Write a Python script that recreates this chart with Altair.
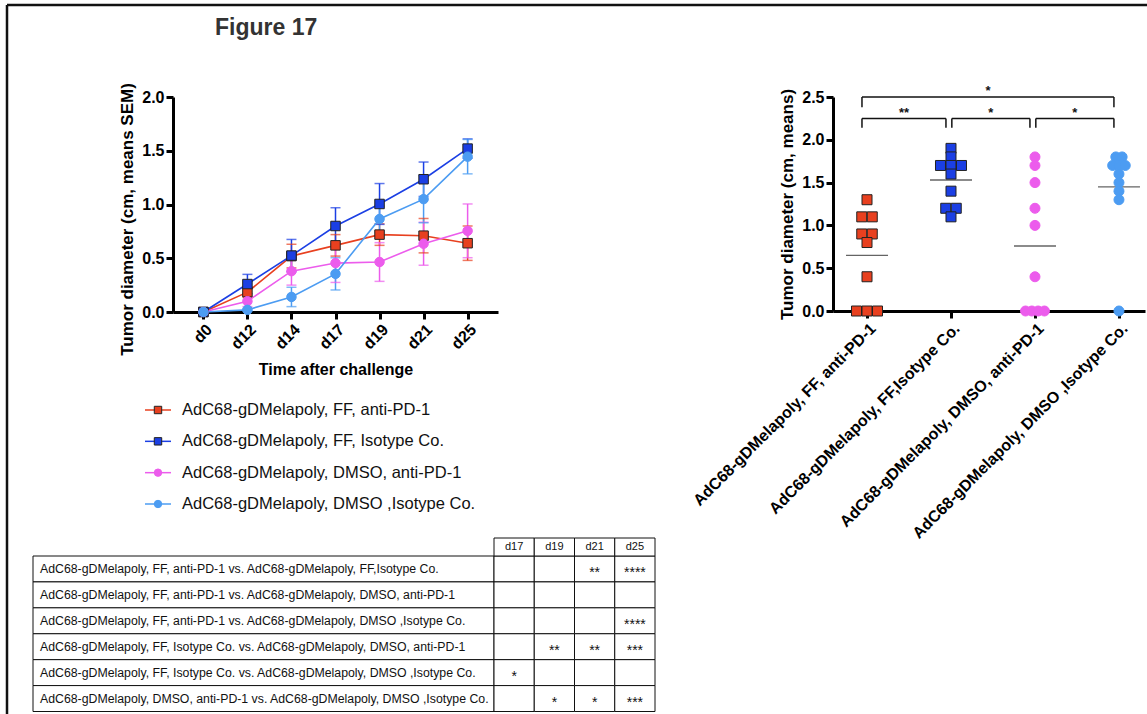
import json
import altair as alt
import pandas as pd

# ---------------- data ----------------
series = ["AdC68-gDMelapoly, FF, anti-PD-1",
          "AdC68-gDMelapoly, FF, Isotype Co.",
          "AdC68-gDMelapoly, DMSO, anti-PD-1",
          "AdC68-gDMelapoly, DMSO ,Isotype Co."]
group_labels = ["AdC68-gDMelapoly, FF, anti-PD-1",
                "AdC68-gDMelapoly, FF,Isotype Co.",
                "AdC68-gDMelapoly, DMSO, anti-PD-1",
                "AdC68-gDMelapoly, DMSO ,Isotype Co."]
colors = ["#E8401F", "#1B3FE4", "#EC5CEC", "#4C9CF2"]
shapes = ["square", "square", "circle", "circle"]

days = ["d0", "d12", "d14", "d17", "d19", "d21", "d25"]
mean_ff_anti = [0, 0.185, 0.52, 0.62, 0.72, 0.71, 0.64]
sem_ff_anti = [0, 0.05, 0.11, 0.10, 0.10, 0.16, 0.16]
mean_ff_iso = [0, 0.26, 0.525, 0.80, 1.005, 1.235, 1.52]
sem_ff_iso = [0, 0.09, 0.15, 0.17, 0.19, 0.16, 0.09]
mean_dmso_anti = [0, 0.10, 0.38, 0.455, 0.465, 0.635, 0.755]
sem_dmso_anti = [0, 0.05, 0.13, 0.18, 0.18, 0.20, 0.25]
mean_dmso_iso = [0, 0.02, 0.14, 0.355, 0.865, 1.05, 1.445]
sem_dmso_iso = [0, 0.01, 0.09, 0.15, 0.12, 0.22, 0.16]

# individual tumour diameters at d25
pts_ff_anti = [1.3, 1.1, 1.1, 0.9, 0.9, 0.8, 0.4, 0, 0, 0]
pts_ff_iso = [1.9, 1.8, 1.7, 1.7, 1.7, 1.6, 1.4, 1.2, 1.2, 1.1]
pts_dmso_anti = [1.8, 1.7, 1.5, 1.2, 1.0, 0.4, 0, 0, 0, 0]
pts_dmso_iso = [1.8, 1.8, 1.7, 1.7, 1.7, 1.6, 1.5, 1.4, 1.3, 0]

# significance brackets (group index from, to, label)
br_from = [0, 1, 2, 0]
br_to = [1, 2, 3, 3]
br_level = [2.25, 2.25, 2.25, 2.5]
br_drop = [2.14, 2.14, 2.14, 2.38]
br_label = ["**", "*", "*", "*"]

# table
comparisons = [
    "AdC68-gDMelapoly, FF, anti-PD-1 vs. AdC68-gDMelapoly, FF,Isotype Co.",
    "AdC68-gDMelapoly, FF, anti-PD-1 vs. AdC68-gDMelapoly, DMSO, anti-PD-1",
    "AdC68-gDMelapoly, FF, anti-PD-1 vs. AdC68-gDMelapoly, DMSO ,Isotype Co.",
    "AdC68-gDMelapoly, FF, Isotype Co. vs. AdC68-gDMelapoly, DMSO, anti-PD-1",
    "AdC68-gDMelapoly, FF, Isotype Co. vs. AdC68-gDMelapoly, DMSO ,Isotype Co.",
    "AdC68-gDMelapoly, DMSO, anti-PD-1 vs. AdC68-gDMelapoly, DMSO ,Isotype Co.",
]
table_days = ["d17", "d19", "d21", "d25"]
sig_d17 = ["", "", "", "", "*", ""]
sig_d19 = ["", "", "", "**", "", "*"]
sig_d21 = ["**", "", "", "**", "", "*"]
sig_d25 = ["****", "", "****", "***", "", "***"]

# ---------------- layout constants ----------------
W, H = 1147, 714
FONT = "Liberation Sans"

# ---------------- tables for the library ----------------
means = [mean_ff_anti, mean_ff_iso, mean_dmso_anti, mean_dmso_iso]
sems = [sem_ff_anti, sem_ff_iso, sem_dmso_anti, sem_dmso_iso]
rows = []
for s, m, e in zip(series, means, sems):
    for k, (d, mv, ev) in enumerate(zip(days, m, e)):
        rows.append(dict(series=s, day=d, k=k, mean=mv, lo=mv - ev, hi=mv + ev))
line_df = pd.DataFrame(rows)

pts = [pts_ff_anti, pts_ff_iso, pts_dmso_anti, pts_dmso_iso]
spread = [0.125, 0.125, 0.075, 0.075]
srows = []
mrows = []
for gi, (s, vals) in enumerate(zip(series, pts)):
    counts = {}
    for v in vals:
        counts[v] = counts.get(v, 0) + 1
    seen = {}
    for v in vals:
        n = counts[v]
        i = seen.get(v, 0)
        seen[v] = i + 1
        srows.append(dict(series=s, xpos=gi + (i - (n - 1) / 2) * spread[gi], value=v))
    mrows.append(dict(xpos=gi, mean=sum(vals) / len(vals)))
scatter_df = pd.DataFrame(srows)
mean_df = pd.DataFrame(mrows)

seg = []
lab = []
for a, b, lv, dr, t in zip(br_from, br_to, br_level, br_drop, br_label):
    xa = a - 0.06 if a == 0 else a + 0.01
    xb = b - 0.06
    seg.append(dict(x=xa, x2=xb, y=lv, y2=lv))
    seg.append(dict(x=xa, x2=xa, y=lv, y2=dr))
    seg.append(dict(x=xb, x2=xb, y=lv, y2=dr))
    lab.append(dict(x=(xa + xb) / 2, y=lv + 0.065, t=t))
seg_df = pd.DataFrame(seg)
lab_df = pd.DataFrame(lab)

legend_df = pd.DataFrame({"series": series})

cells = []
for r in range(len(comparisons)):
    for d, col in zip(table_days, [sig_d17, sig_d19, sig_d21, sig_d25]):
        cells.append(dict(row=r, day=d, sig=col[r]))
cell_df = pd.DataFrame(cells)
label_df = pd.DataFrame({"row": list(range(len(comparisons))), "text": comparisons})
head_df = pd.DataFrame({"day": table_days})

# ---------------- scales ----------------
color = alt.Color("series:N", scale=alt.Scale(domain=series, range=colors), legend=None)
shape = alt.Shape("series:N", scale=alt.Scale(domain=series, range=shapes), legend=None)
outline = alt.Stroke("series:N",
                     scale=alt.Scale(domain=series, range=["#222", "#222", colors[2], colors[3]]),
                     legend=None)


def lx(axis=None):
    return alt.X("day:O", sort=days,
                 scale=alt.Scale(type="point", domain=days, range=[173, 498], padding=0.69),
                 axis=axis)


def ly(field, axis=None):
    return alt.Y(field, type="quantitative",
                 scale=alt.Scale(domain=[0, 2], range=[312, 97], nice=False, zero=False),
                 axis=axis)


def sx(field, axis=None):
    return alt.X(field, type="quantitative",
                 scale=alt.Scale(domain=[-0.405, 3.31], range=[833, 1145], nice=False, zero=False),
                 axis=axis)


def sy(field, axis=None):
    return alt.Y(field, type="quantitative",
                 scale=alt.Scale(domain=[0, 2.5], range=[311, 97], nice=False, zero=False),
                 axis=axis)


axis_common = dict(domainColor="#000", domainWidth=3, tickColor="#000", tickWidth=3,
                   tickSize=7, labelPadding=2, labelFont=FONT, labelFontWeight="bold",
                   labelColor="#000", titleFont=FONT, titleFontWeight="bold",
                   titleColor="#000", grid=False, labelLimit=400)

left_x_axis = alt.Axis(orient="bottom", offset=312 - H, title="Time after challenge",
                       titleFontSize=16, titlePadding=10, labelAngle=315, labelFontSize=16,
                       **axis_common)
left_y_axis = alt.Axis(orient="left", offset=-173, values=[0, 0.5, 1, 1.5, 2], format=".1f",
                       title="Tumor diameter (cm, means SEM)", titleFontSize=17, titleY=219,
                       labelFontSize=16, titlePadding=5, **axis_common)
right_x_axis = alt.Axis(orient="bottom", offset=311 - H, values=[0, 1, 2, 3],
                        labelExpr=json.dumps(group_labels) + "[datum.value]",
                        labelAngle=315, labelFontSize=16, title=None,
                        labelOverlap=False, labelFlush=False, labelBound=False,
                        **axis_common)
right_y_axis = alt.Axis(orient="left", offset=-833, values=[0, 0.5, 1, 1.5, 2, 2.5], format=".1f",
                        title="Tumor diameter (cm, means)", titleFontSize=17,
                        labelFontSize=16, titlePadding=5, **axis_common)

# ---------------- frame & title ----------------
one = pd.DataFrame({"t": ["Figure 17"]})
frame_top = alt.Chart(one).mark_rule(color="#111", strokeWidth=2.5).encode(
    x=alt.value(7), x2=alt.value(W), y=alt.value(5))
frame_left = alt.Chart(one).mark_rule(color="#111", strokeWidth=2.5).encode(
    x=alt.value(7), y=alt.value(5), y2=alt.value(H))
title = alt.Chart(one).mark_text(font=FONT, fontSize=23, fontWeight="bold", color="#333",
                                 align="left", baseline="middle").encode(
    x=alt.value(215), y=alt.value(28), text="t:N")

# ---------------- line chart ----------------
err_rule = alt.Chart(line_df).mark_rule(strokeWidth=1.5).encode(
    x=lx(), y=ly("lo"), y2="hi", color=color)
cap_hi = alt.Chart(line_df).mark_tick(orient="horizontal", size=10, thickness=1.5).encode(
    x=lx(), y=ly("hi"), color=color)
cap_lo = alt.Chart(line_df).mark_tick(orient="horizontal", size=10, thickness=1.5).encode(
    x=lx(), y=ly("lo"), color=color)
lines = alt.Chart(line_df).mark_line(strokeWidth=1.6).encode(
    x=lx(left_x_axis), y=ly("mean", left_y_axis), color=color, order="k:Q")
points = alt.Chart(line_df).mark_point(filled=True, size=90, opacity=1, strokeWidth=1).encode(
    x=lx(), y=ly("mean"), color=color, shape=shape, stroke=outline)

# ---------------- legend ----------------
leg_y = alt.Y("series:N", scale=alt.Scale(type="point", domain=series, range=[410, 504], padding=0),
              axis=None)
leg_rule = alt.Chart(legend_df).mark_rule(strokeWidth=1.5).encode(
    x=alt.value(145), x2=alt.value(171), y=leg_y, color=color)
leg_pts = alt.Chart(legend_df).mark_point(filled=True, size=55, opacity=1, strokeWidth=1).encode(
    x=alt.value(158), y=leg_y, color=color, shape=shape, stroke=outline)
leg_txt = alt.Chart(legend_df).mark_text(font=FONT, fontSize=16.5, color="#111", align="left",
                                         baseline="middle").encode(
    x=alt.value(182), y=leg_y, text="series:N")

# ---------------- scatter chart ----------------
br_rules = alt.Chart(seg_df).mark_rule(color="#111", strokeWidth=1.5).encode(
    x=sx("x"), x2="x2", y=sy("y"), y2="y2")
br_text = alt.Chart(lab_df).mark_text(font=FONT, fontSize=13, fontWeight="bold", color="#111",
                                      baseline="middle").encode(
    x=sx("x"), y=sy("y"), text="t:N")
mean_ticks = alt.Chart(mean_df).mark_tick(orient="horizontal", size=42, thickness=1.4,
                                          color="#222").encode(
    x=sx("xpos"), y=sy("mean"))
sc_pts = alt.Chart(scatter_df).mark_point(filled=True, size=100, opacity=1, strokeWidth=1).encode(
    x=sx("xpos", right_x_axis), y=sy("value", right_y_axis), color=color, shape=shape,
    stroke=outline)

# ---------------- table ----------------
t_row = alt.Y("row:O", scale=alt.Scale(type="band", domain=list(range(len(comparisons))),
                                       range=[556, 711.5], paddingInner=0, paddingOuter=0),
              axis=None)
t_day = alt.X("day:N", scale=alt.Scale(type="band", domain=table_days, range=[494, 655],
                                       paddingInner=0, paddingOuter=0), axis=None)
t_label_cells = alt.Chart(label_df).mark_rect(fill="white", stroke="#111", strokeWidth=1).encode(
    x=alt.value(33), x2=alt.value(494), y=t_row)
t_cells = alt.Chart(cell_df).mark_rect(fill="white", stroke="#111", strokeWidth=1).encode(
    x=t_day, y=t_row)
t_head_cells = alt.Chart(head_df).mark_rect(fill="white", stroke="#111", strokeWidth=1).encode(
    x=t_day, y=alt.value(538), y2=alt.value(556))
t_labels = alt.Chart(label_df).mark_text(font=FONT, fontSize=12.3, color="#111", align="left",
                                         baseline="middle").encode(
    x=alt.value(40), y=t_row, text="text:N")
t_sig = alt.Chart(cell_df).mark_text(font=FONT, fontSize=14, color="#111", baseline="middle",
                                     dy=4).encode(
    x=t_day, y=t_row, text="sig:N")
t_head = alt.Chart(head_df).mark_text(font=FONT, fontSize=11, color="#111",
                                      baseline="middle").encode(
    x=t_day, y=alt.value(547), text="day:N")

chart = alt.layer(
    frame_top, frame_left, title,
    err_rule, cap_hi, cap_lo, lines, points,
    leg_rule, leg_pts, leg_txt,
    br_rules, br_text, mean_ticks, sc_pts,
    t_label_cells, t_cells, t_head_cells, t_labels, t_sig, t_head,
).resolve_scale(
    x="independent", y="independent"
).properties(
    width=W, height=H, padding=0, autosize=alt.AutoSizeParams(type="none"),
    background="white"
).configure_view(stroke=None)

chart.save("out.html", embed_options={"renderer": "svg", "actions": False})
